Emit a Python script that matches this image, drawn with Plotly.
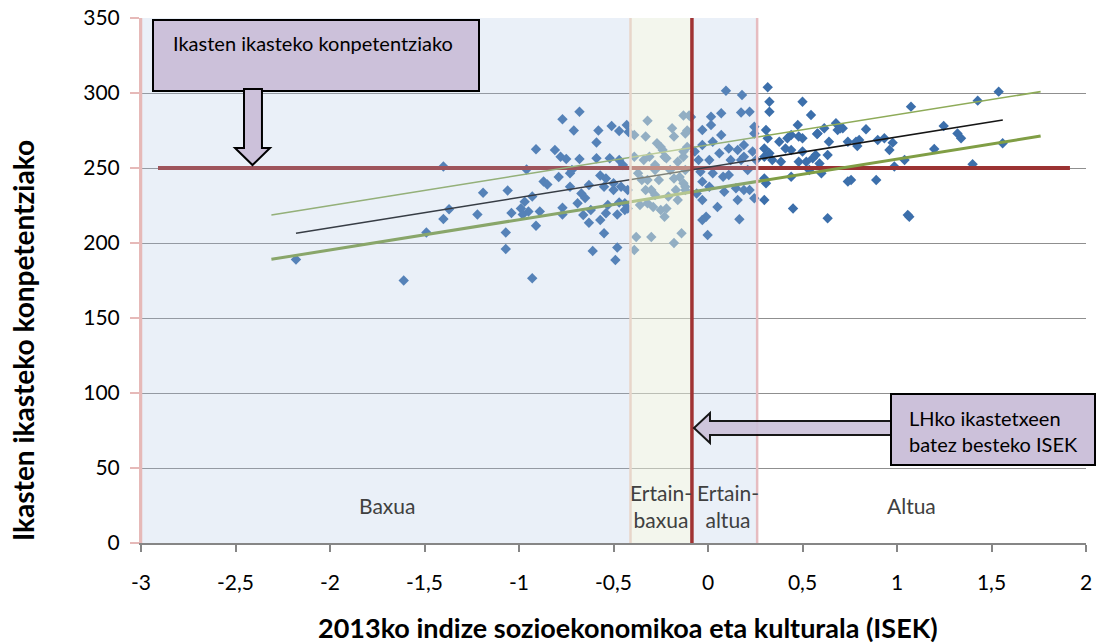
import plotly.graph_objects as go

# ISEK (x) and competence score (y) for each school
isek = [
    -2.18, -1.61, -1.49, -1.40, -1.40, -1.37, -1.22, -1.19, -1.07, -1.07, -1.06, -1.04,
    -0.99, -0.98, -0.96, -0.97, -0.95, -0.93, -0.93, -0.91, -0.91, -0.89, -0.87, -0.85,
    -0.81, -0.79, -0.78, -0.77, -0.77, -0.77, -0.75, -0.73, -0.73, -0.72, -0.71, -0.68,
    -0.68, -0.69, -0.67, -0.66, -0.65, -0.63, -0.63, -0.61, -0.62, -0.59, -0.58, -0.59,
    -0.57, -0.57, -0.55, -0.55, -0.54, -0.53, -0.52, -0.51, -0.50, -0.49, -0.48, -0.48,
    -0.47, -0.47, -0.45, -0.46, -0.44, -0.43, -0.44, -0.42, -0.47, -0.54, -0.50, -0.425,
    -0.425,
    -0.39, -0.39, -0.38, -0.39, -0.37, -0.36, -0.35, -0.33, -0.32, -0.31, -0.30, -0.30,
    -0.29, -0.28, -0.27, -0.26, -0.25, -0.23, -0.24, -0.22, -0.21, -0.19, -0.18, -0.18,
    -0.16, -0.14, -0.15, -0.13, -0.13, -0.12, -0.11, -0.10, -0.11,
    -0.25, -0.34, -0.23, -0.28, -0.20, -0.16, -0.13, -0.12, -0.32, -0.18, -0.33, -0.28,
    -0.17, -0.13, -0.32, -0.22, -0.12, -0.12,
    0.095, 0.18, 0.07, 0.016, 0.175, 0.22, -0.09, -0.03, 0.016, 0.07, 0.025, -0.03,
    -0.07, -0.05, 0.007, 0.06, 0.11, 0.157, 0.19, 0.12, 0.175, -0.04, 0.025, 0.08,
    0.11, -0.03, 0.007, 0.086, 0.148, 0.19, -0.06, -0.03, 0.157, 0.05, -0.01, -0.03,
    0.166, -0.002, 0.21, 0.245, 0.245, 0.19, 0.236, 0.254, 0.22, 0.245,
    0.316, 0.325, 0.325, 0.50, 0.545, 0.307, 0.316, 0.298, 0.325, 0.298, 0.34, 0.377,
    0.42, 0.41, 0.44, 0.386, 0.44, 0.475, 0.48, 0.50, 0.50, 0.48, 0.52, 0.536,
    0.554, 0.58, 0.57, 0.59, 0.60, 0.615, 0.633, 0.64, 0.677, 0.686, 0.713, 0.74,
    0.783, 0.757, 0.74, 0.44, 0.298, 0.307, 0.298, 0.45, 0.633,
    0.986, 1.04, 1.074, 1.057, 1.065, 0.89, 0.80, 0.79, 0.836, 0.898, 0.933, 0.96,
    0.977, 1.197, 1.247, 1.32, 1.339, 1.40, 1.427, 1.538, 1.559, 0.577, 0.70,
]
score = [
    189, 175, 207, 251, 216, 222.5, 219, 233.5, 207, 196, 235, 220,
    223, 219, 249, 227.5, 221, 231, 176.5, 262.5, 211.5, 221, 241, 239,
    262, 244, 257.5, 282.5, 223.5, 219, 256, 237.5, 246.5, 248.7, 275, 287.5,
    256, 226.5, 233, 218.7, 230, 213.5, 238.7, 194.7, 222, 267, 275, 256.5,
    215.3, 245, 206.5, 237.5, 219.8, 225.3, 256.5, 278, 235.3, 188.7, 197, 219,
    274.7, 227, 252, 237.5, 222, 278.7, 226.5, 274, 255.3, 243, 239.8, 223,
    235.3,
    272, 195.3, 204, 257.5, 246.5, 225.3, 242, 271, 281.5, 257.5, 204, 235.3,
    224, 248.7, 266.5, 242, 222, 217.5, 262, 256.5, 231, 276.5, 271, 200,
    228.7, 206.5, 244, 285, 257.5, 237.5, 275, 285, 264,
    264, 255.3, 257.5, 252, 248.7, 254.2, 261, 273, 242, 243, 235.3, 232,
    235.3, 239.8, 226.5, 223, 235.3, 248.7,
    301.5, 298.7, 286.5, 284.2, 287, 287.5, 284, 275.3, 278.7, 272, 267.5, 265.3,
    261, 255.3, 255.3, 259.8, 263, 262, 265.3, 255.3, 255.3, 247.5, 246.5, 244.2,
    245.3, 240.9, 237.5, 234.2, 236.5, 235.3, 233, 228.7, 228.7, 224, 217.5, 215.3,
    215.8, 205.3, 248.7, 277.5, 273, 257.5, 261, 255.3, 235.3, 229.8,
    303.8, 294.2, 287.5, 294.2, 285.3, 275.3, 269.8, 263, 259.8, 257.5, 255.3, 267.5,
    269.8, 263, 262, 254.2, 272, 278.7, 271, 269.8, 261, 254.2, 254.2, 248.7,
    256.5, 273, 258.7, 253, 246.5, 276.5, 258.7, 267.5, 279.8, 275.3, 276.5, 267.5,
    267.5, 242, 241, 244.2, 243, 239.8, 228.7, 223, 216.5,
    251, 255.3, 290.9, 218.7, 217.5, 242, 268.7, 264.7, 275.8, 268.7, 269.8, 262,
    266.9, 262.7, 278, 273, 269.8, 252.5, 294.9, 300.9, 266.5, 272.7, 276.5,
]

# fitted line and the two band lines (end points)
trend_x = [-2.18, 1.56]
trend_y = [206.5, 282]
upper_x = [-2.31, 1.76]
upper_y = [218.7, 300.9]
lower_x = [-2.31, 1.76]
lower_y = [189.1, 271.3]

# reference levels
competence_mean = 250
competence_x = [-2.91, 1.915]
isek_mean = -0.085

# ISEK groups: edges and labels
group_edges = [-3, -0.41, -0.085, 0.26]
group_labels = ["Baxua", "Ertain-<br>baxua", "Ertain-<br>altua", "Altua"]
group_label_x = [-1.70, -0.25, 0.105, 1.075]

x_ticks = [-3, -2.5, -2, -1.5, -1, -0.5, 0, 0.5, 1, 1.5, 2]
x_tick_text = ["-3", "-2,5", "-2", "-1,5", "-1", "-0,5", "0", "0,5", "1", "1,5", "2"]

FONT = "Lato, 'Noto Sans', sans-serif"
LAV = "#ccc1da"

fig = go.Figure()
fig.add_trace(go.Scatter(
    x=isek, y=score, mode="markers",
    marker=dict(symbol="diamond", size=8, color="#3c6fab", line=dict(width=0)),
    hoverinfo="x+y", showlegend=False,
))
fig.add_trace(go.Scatter(
    x=competence_x, y=[competence_mean] * 2, mode="lines",
    line=dict(color="#9b3232", width=4), showlegend=False, hoverinfo="skip",
))
fig.add_trace(go.Scatter(x=upper_x, y=upper_y, mode="lines",
                         line=dict(color="#8eab58", width=1.6), showlegend=False, hoverinfo="skip"))
fig.add_trace(go.Scatter(x=lower_x, y=lower_y, mode="lines",
                         line=dict(color="#809e45", width=3), showlegend=False, hoverinfo="skip"))
fig.add_trace(go.Scatter(x=trend_x, y=trend_y, mode="lines",
                         line=dict(color="#151515", width=1.6), showlegend=False, hoverinfo="skip"))

# shaded groups, drawn over the points
band_fill = ["#a7c0e2", "#e8eedc", "#a7c0e2"]
band_alpha = [0.24, 0.5, 0.24]
for i in range(3):
    fig.add_shape(type="rect", xref="x", yref="y", x0=group_edges[i], x1=group_edges[i + 1],
                  y0=0, y1=350, fillcolor=band_fill[i], opacity=band_alpha[i],
                  line_width=0, layer="above")
edge_colors = ["#e6b9b8", "#e8d6ca", "#e6bcc0"]
for xe, col in zip([group_edges[0], group_edges[1], group_edges[3]], edge_colors):
    fig.add_shape(type="line", xref="x", yref="y", x0=xe, x1=xe, y0=0, y1=350,
                  line=dict(color=col, width=2.5), layer="above")
fig.add_shape(type="line", xref="x", yref="y", x0=isek_mean, x1=isek_mean, y0=0, y1=350,
              line=dict(color="#a03333", width=3.5), layer="above")

for lx, lt in zip(group_label_x, group_labels):
    fig.add_annotation(x=lx, y=25, xref="x", yref="y", text=lt, showarrow=False,
                       xanchor="center", yanchor="middle",
                       font=dict(family=FONT, size=21, color="#404040"), align="center")


# pixel -> paper helpers (plot area spans 141..1086 x 18..543)
def px(v):
    return (v - 141) / 945


def py(v):
    return (543 - v) / 525


# box 1 with down arrow
fig.add_shape(type="rect", xref="paper", yref="paper", x0=px(153), x1=px(479), y0=py(91), y1=py(20),
              fillcolor=LAV, line=dict(color="black", width=2), layer="above")
arrow_down = [(244, 89), (262, 89), (262, 148), (270, 148), (252.5, 165), (235, 148), (244, 148)]
fig.add_shape(type="path", xref="paper", yref="paper", layer="above",
              path="M " + " L ".join(f"{px(a):.4f},{py(b):.4f}" for a, b in arrow_down) + " Z",
              fillcolor=LAV, line=dict(color="black", width=2))
fig.add_annotation(x=px(171), y=py(43), xref="paper", yref="paper", xanchor="left", yanchor="middle",
                   text="Ikasten ikasteko konpetentziako", showarrow=False,
                   font=dict(family=FONT, size=20, color="black"))

# box 2 with left arrow
arrow_left = [(891, 421), (710, 421), (710, 413), (694, 428), (710, 443), (710, 435), (891, 435)]
fig.add_shape(type="path", xref="paper", yref="paper", layer="above",
              path="M " + " L ".join(f"{px(a):.4f},{py(b):.4f}" for a, b in arrow_left) + " Z",
              fillcolor=LAV, opacity=0.9, line=dict(color="black", width=2))
fig.add_shape(type="rect", xref="paper", yref="paper", x0=px(891), x1=px(1095), y0=py(465), y1=py(394),
              fillcolor=LAV, line=dict(color="black", width=2), layer="above")
fig.add_annotation(x=px(907), y=py(431), xref="paper", yref="paper", xanchor="left", yanchor="middle",
                   text="LHko ikastetxeen<br>batez besteko ISEK", showarrow=False, align="left",
                   font=dict(family=FONT, size=20, color="black"))

# axis titles
fig.add_annotation(x=px(628), y=py(627), xref="paper", yref="paper", showarrow=False,
                   xanchor="center", yanchor="middle",
                   text="2013ko indize sozioekonomikoa eta kulturala (ISEK)",
                   font=dict(family=FONT, size=27, color="black", weight="bold"))
fig.add_annotation(x=px(23), y=py(341), xref="paper", yref="paper", showarrow=False, textangle=-90,
                   xanchor="center", yanchor="middle",
                   text="Ikasten ikasteko konpetentziako",
                   font=dict(family=FONT, size=28, color="black", weight="bold"))

fig.update_layout(
    width=1097, height=643,
    margin=dict(l=141, r=11, t=18, b=100, autoexpand=False),
    plot_bgcolor="white", paper_bgcolor="white",
    font=dict(family=FONT, size=18, color="black"),
    separators=",.",
    showlegend=False,
)
fig.update_xaxes(
    range=[-3, 2], tickvals=x_ticks, ticktext=x_tick_text,
    showgrid=False, zeroline=False, automargin=False,
    showline=True, linecolor="#868686", linewidth=1.5,
    ticks="outside", ticklen=7, tickcolor="#868686", tickwidth=1.5,
    ticklabelstandoff=13, ticklabeloverflow="allow",
    tickfont=dict(family=FONT, size=21, color="black"),
)
fig.update_yaxes(
    range=[0, 350], dtick=50,
    showgrid=True, gridcolor="#8f8f8f", gridwidth=1.3, zeroline=False, automargin=False,
    showline=True, linecolor="#e6b9b8", linewidth=2,
    ticks="outside", ticklen=9, tickcolor="#e6b9b8", tickwidth=2,
    ticklabelstandoff=6, ticklabeloverflow="allow",
    tickfont=dict(family=FONT, size=21, color="black"),
)

# drop the browser's default body margin so the figure fills the window
fig.write_html("out.html", config={"displayModeBar": False},
               post_script="document.body.style.margin = '0px';")
